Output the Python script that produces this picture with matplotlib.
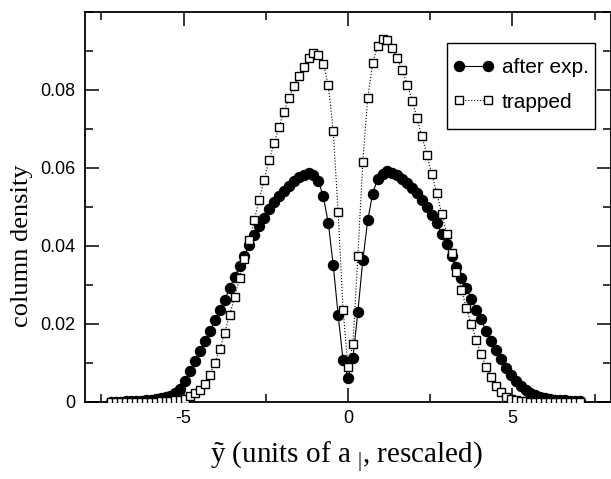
import matplotlib
matplotlib.use("Agg")
import matplotlib.pyplot as plt
from matplotlib.patches import Rectangle
from matplotlib.ticker import MultipleLocator, FuncFormatter

plt.rcParams['font.family'] = ['Liberation Sans', 'DejaVu Sans']
plt.rcParams['mathtext.fontset'] = 'custom'
plt.rcParams['mathtext.rm'] = 'Liberation Serif'
plt.rcParams['mathtext.it'] = 'Liberation Serif:italic'
plt.rcParams['axes.unicode_minus'] = False

# positions (units of a_perp, rescaled)
y_pos = [-7.20, -7.05, -6.90, -6.75, -6.60, -6.45, -6.30, -6.15, -6.00, -5.85,
         -5.70, -5.55, -5.40, -5.25, -5.10, -4.95, -4.80, -4.65, -4.50, -4.35,
         -4.20, -4.05, -3.90, -3.75, -3.60, -3.45, -3.30, -3.15, -3.00, -2.85,
         -2.70, -2.55, -2.40, -2.25, -2.10, -1.95, -1.80, -1.65, -1.50, -1.35,
         -1.20, -1.05, -0.90, -0.75, -0.60, -0.45, -0.30, -0.15, 0.00, 0.15,
         0.30, 0.45, 0.60, 0.75, 0.90, 1.05, 1.20, 1.35, 1.50, 1.65,
         1.80, 1.95, 2.10, 2.25, 2.40, 2.55, 2.70, 2.85, 3.00, 3.15,
         3.30, 3.45, 3.60, 3.75, 3.90, 4.05, 4.20, 4.35, 4.50, 4.65,
         4.80, 4.95, 5.10, 5.25, 5.40, 5.55, 5.70, 5.85, 6.00, 6.15,
         6.30, 6.45, 6.60, 6.75, 6.90, 7.05]

after_exp = [0.0001, 0.0001, 0.0001, 0.0002, 0.0002, 0.0003, 0.0003, 0.0004, 0.0005, 0.0007,
             0.0009, 0.0012, 0.0016, 0.0022, 0.0034, 0.0053, 0.0080, 0.0105, 0.0131, 0.0156,
             0.0182, 0.0209, 0.0235, 0.0262, 0.0292, 0.0320, 0.0348, 0.0375, 0.0402, 0.0429,
             0.0451, 0.0473, 0.0494, 0.0513, 0.0529, 0.0542, 0.0555, 0.0566, 0.0576, 0.0583,
             0.0588, 0.0583, 0.0566, 0.0527, 0.0459, 0.0352, 0.0223, 0.0107, 0.0062, 0.0113,
             0.0231, 0.0363, 0.0466, 0.0534, 0.0572, 0.0585, 0.0592, 0.0587, 0.0581, 0.0572,
             0.0562, 0.0549, 0.0535, 0.0519, 0.0501, 0.0480, 0.0458, 0.0432, 0.0405, 0.0374,
             0.0346, 0.0319, 0.0293, 0.0265, 0.0237, 0.0212, 0.0182, 0.0157, 0.0133, 0.0109,
             0.0086, 0.0069, 0.0054, 0.0041, 0.0031, 0.0024, 0.0018, 0.0014, 0.0011, 0.0008,
             0.0006, 0.0005, 0.0004, 0.0003, 0.0002, 0.0002]

trapped = [0.0000, 0.0000, 0.0000, 0.0000, 0.0000, 0.0001, 0.0001, 0.0001, 0.0001, 0.0001,
           0.0002, 0.0002, 0.0003, 0.0004, 0.0005, 0.0008, 0.0015, 0.0022, 0.0031, 0.0047,
           0.0070, 0.0101, 0.0136, 0.0178, 0.0223, 0.0269, 0.0317, 0.0366, 0.0416, 0.0467,
           0.0519, 0.0570, 0.0620, 0.0663, 0.0704, 0.0744, 0.0779, 0.0809, 0.0836, 0.0859,
           0.0882, 0.0895, 0.0890, 0.0867, 0.0813, 0.0696, 0.0486, 0.0237, 0.0089, 0.0150,
           0.0375, 0.0616, 0.0780, 0.0869, 0.0914, 0.0932, 0.0929, 0.0908, 0.0881, 0.0851,
           0.0814, 0.0773, 0.0728, 0.0681, 0.0634, 0.0584, 0.0536, 0.0483, 0.0432, 0.0381,
           0.0334, 0.0286, 0.0242, 0.0199, 0.0159, 0.0123, 0.0090, 0.0063, 0.0041, 0.0025,
           0.0014, 0.0008, 0.0005, 0.0003, 0.0002, 0.0001, 0.0001, 0.0001, 0.0001, 0.0000,
           0.0000, 0.0000, 0.0000, 0.0000, 0.0000, 0.0000]

series_labels = ["after exp.", "trapped"]
x_ticks = [-5, 0, 5]
y_ticks = [0, 0.02, 0.04, 0.06, 0.08]

fig = plt.figure(figsize=(6.11, 4.79), dpi=100)
ax = fig.add_axes([85/611, 1-402/479, 526/611, 390/479])

ax.plot(y_pos, after_exp, '-', color='black', lw=0.8, marker='o', ms=7.2,
        mfc='black', mec='black', label=series_labels[0], zorder=3)
ax.plot(y_pos, trapped, ':', color='black', lw=0.8, marker='s', ms=5.8,
        mfc='white', mec='black', mew=1.0, label=series_labels[1], zorder=4)

ax.set_xlim(-8, 8)
ax.set_ylim(0, 0.1)
ax.xaxis.set_major_locator(MultipleLocator(5))
ax.xaxis.set_minor_locator(MultipleLocator(2.5))
ax.yaxis.set_major_locator(MultipleLocator(0.02))
ax.yaxis.set_minor_locator(MultipleLocator(0.01))
ax.set_xticks(x_ticks)
ax.set_yticks(y_ticks)
ax.yaxis.set_major_formatter(FuncFormatter(lambda v, p: '0' if abs(v) < 1e-12 else f'{v:.2f}'))
ax.xaxis.set_major_formatter(FuncFormatter(lambda v, p: f'{v:g}'))

ax.tick_params(which='both', direction='in', top=True, right=True, width=1.1,
               labelsize=13)
ax.tick_params(which='major', length=10)
ax.tick_params(which='minor', length=5.5)
ax.tick_params(axis='x', pad=6)
ax.tick_params(axis='y', pad=7)
for s in ax.spines.values():
    s.set_linewidth(1.3)

ax.set_xlabel('ỹ (units of a $_{|}$, rescaled)', family=['Liberation Serif', 'DejaVu Serif'],
              fontsize=21, va='center')
ax.xaxis.set_label_coords(0.496, -0.142)
ax.set_ylabel('column density', family=['Liberation Serif', 'DejaVu Serif'],
              fontsize=19, va='center')
ax.yaxis.set_label_coords(-0.12, 0.40)

# legend frame (drawn separately: taller than the uniform legend padding)
frame = Rectangle((0.6876, 0.6992), 0.9696 - 0.6876, 0.9197 - 0.6992,
                  transform=ax.transAxes, facecolor='white', edgecolor='black',
                  lw=1.0, zorder=5)
ax.add_patch(frame)
leg = ax.legend(loc='upper left', bbox_to_anchor=(0.6841, 0.9018), borderaxespad=0,
                fontsize=15, numpoints=2, handlelength=2.0, handletextpad=0.35,
                borderpad=0.38, labelspacing=0.74, frameon=False)
leg.set_zorder(6)

fig.savefig('out.png', dpi=100)
